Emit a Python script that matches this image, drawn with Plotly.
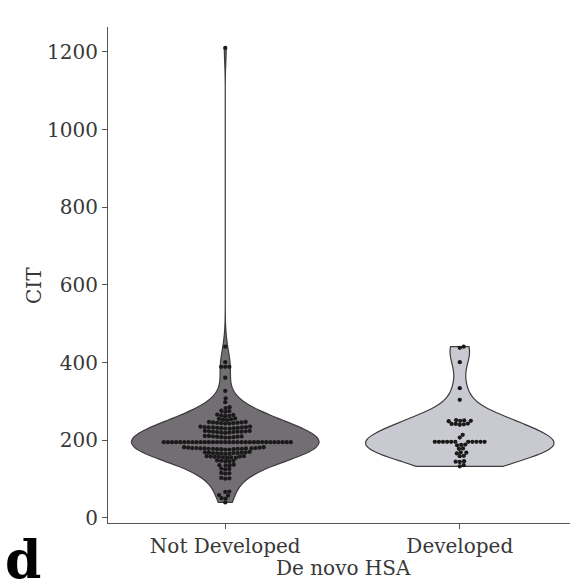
import numpy as np
import plotly.graph_objects as go

categories = ["Not Developed", "Developed"]

not_developed = [
    1210,
    441, 401, 389, 389, 389, 361, 327, 308, 298,
    285, 283,
    276, 275, 273,
    266, 265, 264, 263, 262,
    256, 255, 254, 253, 252,
    247, 247, 246, 246, 245, 245, 244, 244, 243, 243,
    235, 235, 234, 234, 233, 233, 233, 232, 232, 231, 231, 230, 230,
    224, 224, 223, 223, 222, 222, 222, 221, 221, 220, 220, 219,
    211, 211, 210, 210, 209, 209, 208, 208, 207, 207,
    195, 195, 195, 195, 195, 195, 195, 195, 195, 195, 195, 195, 195, 195, 195, 195,
    195, 195, 195, 195, 195, 195, 195, 195, 195, 195, 195, 195, 195, 195, 195, 195,
    182, 182, 181, 181, 180, 180, 180, 179, 179, 179, 179, 178, 178, 178, 178, 177, 177, 177, 176, 176,
    170, 169, 169, 168, 168, 167, 167, 167, 166, 166, 165, 165,
    159, 159, 158, 158, 157, 157, 156, 156, 155, 155,
    148, 147, 147, 146, 146,
    137, 136, 136, 135,
    127, 126, 125,
    116, 115, 114,
    103, 102, 101,
    68, 67, 59, 58, 51, 50, 40,
]

developed = [
    441, 438, 401, 334, 304,
    252, 251, 250, 250, 249,
    243, 242, 242, 241, 240,
    214, 207,
    196, 196, 196, 196, 196, 196, 196, 196, 196, 196, 196,
    189, 188, 187,
    179, 178,
    169, 168, 166,
    160, 159,
    146, 145, 144,
    136, 133,
]

y_ticks = [0, 200, 400, 600, 800, 1000, 1200]

# ---- layout geometry ----
W, H = 570, 582
ML, MR, MT, MB = 108, 0, 27, 59
x_range = [-0.5, 1.47]
y_range = [-13, 1264]
plot_w = W - ML - MR
plot_h = H - MT - MB
px_x = plot_w / (x_range[1] - x_range[0])
px_y = plot_h / (y_range[1] - y_range[0])


def beeswarm(values, diameter=3.9):
    vals = np.asarray(values, dtype=float)
    order = np.argsort(vals, kind="stable")
    ys = vals[order] * px_y
    placed = []
    xs = np.zeros(len(ys))
    for i, y in enumerate(ys):
        neigh = [(qx, qy) for (qx, qy) in placed if abs(qy - y) <= diameter]
        cands = [0.0]
        for (nx, ny) in neigh:
            dy = y - ny
            dx = np.sqrt(max(diameter ** 2 - dy ** 2, 0)) * 1.05
            cands += [nx + dx, nx - dx]
        cands.sort(key=lambda c: abs(c))
        chosen = cands[0]
        for c in cands:
            ok = True
            for (nx, ny) in neigh:
                if (c - nx) ** 2 + (y - ny) ** 2 < (diameter ** 2) * 0.999:
                    ok = False
                    break
            if ok:
                chosen = c
                break
        placed.append((chosen, y))
        xs[i] = chosen
    out = np.zeros(len(ys))
    out[order] = xs
    return out / px_x


def scott_bw(values):
    v = np.asarray(values, dtype=float)
    return np.std(v, ddof=1) * len(v) ** (-0.2)


fig = go.Figure()
fills = ["#736e73", "#c9c9d2"]
for i, (name, vals) in enumerate(zip(categories, [not_developed, developed])):
    fig.add_trace(go.Violin(
        x=[i] * len(vals), y=vals, name=name,
        spanmode="hard", bandwidth=scott_bw(vals),
        width=0.8, scalemode="width", points=False,
        fillcolor=fills[i], line=dict(color="#3c3c3c", width=1.2),
        opacity=1, showlegend=False, hoverinfo="skip",
    ))
for i, vals in enumerate([not_developed, developed]):
    offs = beeswarm(vals)
    fig.add_trace(go.Scatter(
        x=i + offs, y=vals, mode="markers",
        marker=dict(color="#1a1a1a", size=4.3, line=dict(width=0)),
        showlegend=False, hoverinfo="skip",
    ))

font_family = "DejaVu Serif"
fig.update_layout(
    width=W, height=H,
    margin=dict(l=ML, r=MR, t=MT, b=MB),
    paper_bgcolor="white", plot_bgcolor="white",
    violinmode="overlay",
    font=dict(family=font_family, color="#383838", size=20),
    xaxis=dict(
        range=x_range, tickmode="array", tickvals=[0, 1], ticktext=categories,
        showline=True, linecolor="#555555", linewidth=1.2,
        ticks="outside", ticklen=5, tickcolor="#555555", tickwidth=1.2,
        showgrid=False, zeroline=False, tickfont=dict(size=20),
    ),
    yaxis=dict(
        range=y_range, tickmode="array", tickvals=y_ticks,
        showline=True, linecolor="#555555", linewidth=1.2,
        ticks="outside", ticklen=5, tickcolor="#555555", tickwidth=1.2,
        showgrid=False, zeroline=False, tickfont=dict(size=20),
    ),
    annotations=[
        dict(text="CIT", x=(34 - ML) / plot_w, y=(523 - 286) / plot_h,
             xref="paper", yref="paper", showarrow=False, textangle=-90,
             xanchor="center", yanchor="middle", font=dict(size=20)),
        dict(text="De novo HSA", x=(343 - ML) / plot_w, y=(523 - 568) / plot_h,
             xref="paper", yref="paper", showarrow=False,
             xanchor="center", yanchor="middle", font=dict(size=20)),
        dict(text="<b>d</b>", x=(3 - ML) / plot_w, y=(523 - 527) / plot_h,
             xref="paper", yref="paper", showarrow=False,
             xanchor="left", yanchor="top",
             font=dict(size=52, color="#000000", family=font_family)),
    ],
)

fig.write_html(
    "out.html",
    config={"displayModeBar": False},
    post_script="document.body.style.margin='0';document.body.style.overflow='hidden';",
)
